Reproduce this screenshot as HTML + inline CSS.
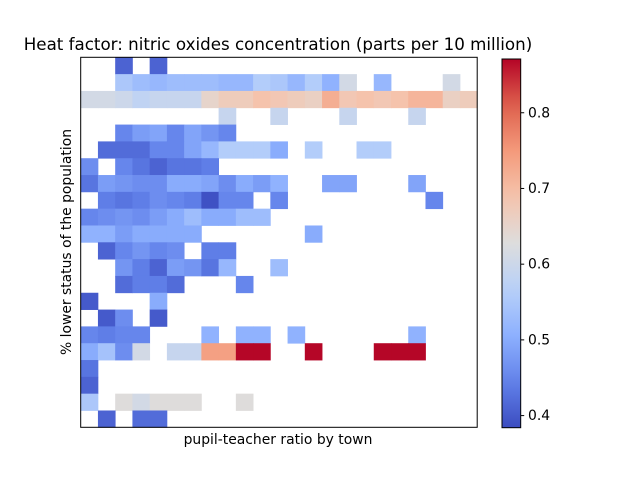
<!DOCTYPE html>
<html><head><meta charset="utf-8"><style>
body{margin:0;background:#fff;font-family:"Liberation Sans","DejaVu Sans",sans-serif}
svg text{font-family:"DejaVu Sans","Liberation Sans",sans-serif}
</style></head><body>
<svg id="c" width="640" height="480" viewBox="0 0 640 480">
<rect width="640" height="480" fill="#fff"/>
<text x="278" y="50" font-size="16.7" text-anchor="middle" fill="#000">Heat factor: nitric oxides concentration (parts per 10 million)</text>
<text x="278" y="444" font-size="13.9" text-anchor="middle" fill="#000">pupil-teacher ratio by town</text>
<text transform="translate(71,242) rotate(-90)" font-size="13.9" text-anchor="middle" fill="#000">% lower status of the population</text>
<g id="cells"></g>
<rect x="80.7" y="57.3" width="396.5" height="370" fill="none" stroke="#000" stroke-width="1"/>
<defs><linearGradient id="cg" x1="0" y1="1" x2="0" y2="0"></linearGradient></defs>
<rect id="cbar" x="502" y="59" width="18.7" height="368.7" fill="url(#cg)" stroke="#000" stroke-width="1"/>
<g id="cticks"></g>
</svg>
<script>
const NCOLS = 23;
const rowsData = [
[null,null,0.41,null,0.41,null,null,null,null,null,null,null,null,null,null,null,null,null,null,null,null,null,null],
[null,null,0.55,0.53,0.52,0.53,0.53,0.53,0.52,0.52,0.56,0.55,0.52,0.56,0.51,0.61,null,0.52,null,null,null,0.61,null],
[0.61,0.61,0.6,0.58,0.59,0.59,0.59,0.65,0.67,0.67,0.69,0.68,0.67,0.66,0.72,0.68,0.69,0.68,0.69,0.71,0.71,0.66,0.67],
[null,null,null,null,null,null,null,null,0.59,null,null,0.59,null,null,null,0.59,null,null,null,0.59,null,null,null],
[null,null,0.45,0.48,0.49,0.45,0.49,0.47,0.45,null,null,null,null,null,null,null,null,null,null,null,null,null,null],
[null,0.42,0.42,0.42,0.45,0.45,0.49,0.52,0.56,0.56,0.56,0.5,null,0.56,null,null,0.56,0.56,null,null,null,null,null],
[0.46,null,0.45,0.43,0.41,0.43,0.43,0.44,null,null,null,null,null,null,null,null,null,null,null,null,null,null,null],
[0.43,0.48,0.47,0.46,0.46,0.5,0.5,0.49,0.46,0.5,0.48,0.51,null,null,0.49,0.49,null,null,null,0.49,null,null,null],
[null,0.44,0.43,0.44,0.46,0.45,0.44,0.39,0.45,0.45,null,0.45,null,null,null,null,null,null,null,null,0.45,null,null],
[0.45,0.46,0.47,0.46,0.48,0.5,0.53,0.5,0.5,0.53,0.53,null,null,null,null,null,null,null,null,null,null,null,null],
[0.51,0.51,0.48,0.5,0.5,0.5,0.5,null,null,null,null,null,null,0.5,null,null,null,null,null,null,null,null,null],
[null,0.41,0.45,0.47,0.45,0.46,null,0.44,0.44,null,null,null,null,null,null,null,null,null,null,null,null,null,null],
[null,null,0.47,0.44,0.41,0.48,0.47,0.43,0.52,null,null,0.53,null,null,null,null,null,null,null,null,null,null,null],
[null,null,0.42,0.44,0.44,0.42,null,null,null,0.45,null,null,null,null,null,null,null,null,null,null,null,null,null],
[0.4,null,null,null,0.5,null,null,null,null,null,null,null,null,null,null,null,null,null,null,null,null,null,null],
[null,0.4,0.46,null,0.4,null,null,null,null,null,null,null,null,null,null,null,null,null,null,null,null,null,null],
[0.45,0.44,0.45,0.45,null,null,null,0.51,null,0.51,0.51,null,0.51,null,null,null,null,null,null,0.51,null,null,null],
[0.5,0.54,0.46,0.61,null,0.59,0.59,0.74,0.74,0.87,0.87,null,null,0.87,null,null,null,0.87,0.87,0.87,null,null,null],
[0.43,null,null,null,null,null,null,null,null,null,null,null,null,null,null,null,null,null,null,null,null,null,null],
[0.41,null,null,null,null,null,null,null,null,null,null,null,null,null,null,null,null,null,null,null,null,null,null],
[0.55,null,0.63,0.61,0.63,0.63,0.63,null,null,0.63,null,null,null,null,null,null,null,null,null,null,null,null,null],
[null,0.41,null,0.42,0.42,null,null,null,null,null,null,null,null,null,null,null,null,null,null,null,null,null,null]
];
const cbTicks = [0.4, 0.5, 0.6, 0.7, 0.8];
const VMIN = 0.384, VMAX = 0.871;

const stops = [[0,[59,76,192]],[0.125,[98,130,234]],[0.25,[141,176,254]],[0.375,[184,208,249]],[0.5,[221,221,221]],[0.625,[245,196,173]],[0.75,[244,154,123]],[0.875,[222,96,77]],[1,[180,4,38]]];
function cmap(t){t=Math.max(0,Math.min(1,t));for(let i=1;i<stops.length;i++){if(t<=stops[i][0]){const a=stops[i-1],b=stops[i],f=(t-a[0])/(b[0]-a[0]);return 'rgb('+a[1].map((v,k)=>Math.round(v+(b[1][k]-v)*f)).join(',')+')';}}return 'rgb(180,4,38)';}
const X0=80.7,X1=477.2,Y0=57.3,Y1=427.3;
const cw=(X1-X0)/NCOLS, rh=(Y1-Y0)/rowsData.length;
const xs=c=>X0+c*cw, ys=r=>Y0+r*rh;
const NS='http://www.w3.org/2000/svg';
const g=document.getElementById('cells');
rowsData.forEach((row,r)=>row.forEach((v,c)=>{
  if(v===null)return;
  const e=document.createElementNS(NS,'rect');
  e.setAttribute('x',xs(c));e.setAttribute('y',ys(r));
  e.setAttribute('width',cw+0.4);e.setAttribute('height',rh+0.4);
  e.setAttribute('fill',cmap((v-VMIN)/(VMAX-VMIN)));
  
  
  g.appendChild(e);
}));
const grad=document.getElementById('cg');
for(let i=0;i<=20;i++){const s=document.createElementNS(NS,'stop');s.setAttribute('offset',i/20);s.setAttribute('stop-color',cmap(i/20));grad.appendChild(s);}
const CB0=59,CB1=427.7;
const cy=v=>CB1-(v-VMIN)/(VMAX-VMIN)*(CB1-CB0);
const ct=document.getElementById('cticks');
cbTicks.forEach(v=>{
  const l=document.createElementNS(NS,'line');
  l.setAttribute('x1',520.7);l.setAttribute('x2',524.2);l.setAttribute('y1',cy(v));l.setAttribute('y2',cy(v));l.setAttribute('stroke','#000');
  
  
  ct.appendChild(l);
  const t=document.createElementNS(NS,'text');
  t.setAttribute('x',528);t.setAttribute('y',cy(v)+4.5);t.setAttribute('font-size','13.9');
  t.textContent=v.toFixed(1);
  
  
  ct.appendChild(t);
});
</script>
</body></html>
